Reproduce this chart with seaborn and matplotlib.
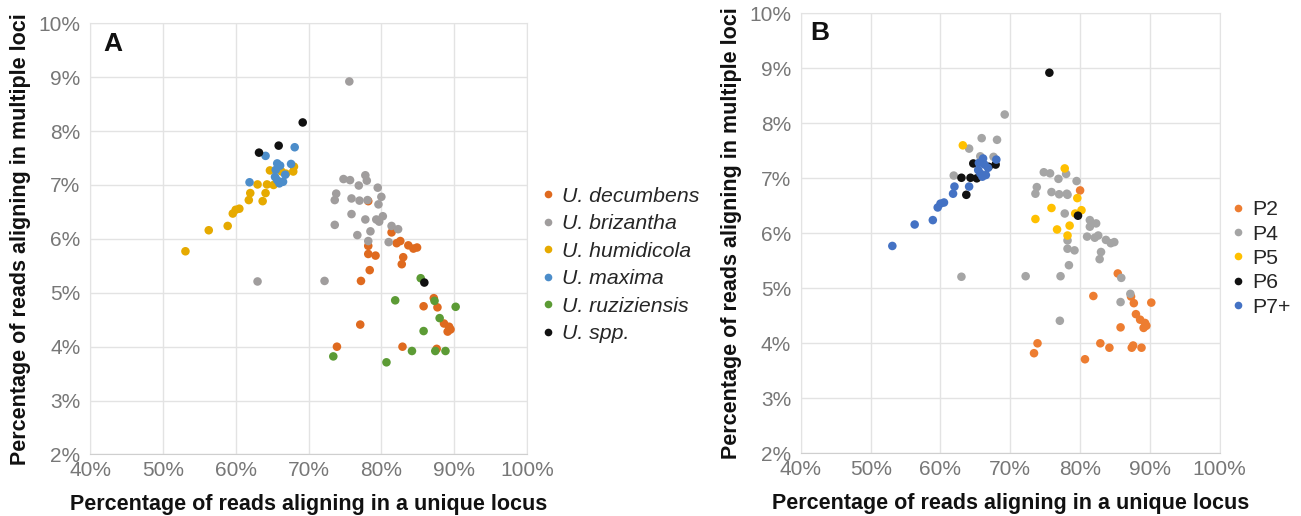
import pandas as pd
import seaborn as sns
import matplotlib.pyplot as plt
from matplotlib.lines import Line2D

# % reads aligning in a unique locus / in multiple loci, one entry per accession
# grouped by species (panel A colour); ploidy gives panel B colour
unique_pct = [
    # U. spp.
    69.2, 65.9, 63.2, 85.9,
    # U. maxima
    68.1, 64.1, 67.6, 65.7, 66.1, 66.8, 65.4, 65.5, 66.0, 66.5, 61.9, 65.7,
    # U. humidicola
    68.0, 67.9, 64.7, 66.3, 63.0, 64.3, 65.2, 66.9, 62.0, 64.1, 61.8, 63.7,
    60.5, 60.0, 59.6, 58.9, 56.3, 53.1,
    # U. brizantha
    75.6, 74.8, 75.7, 77.8, 78.0, 76.9, 79.5, 73.8, 73.6, 75.9, 77.0, 78.1,
    80.0, 79.6, 75.9, 73.6, 77.8, 79.3, 80.2, 79.7, 76.7, 78.5, 78.2, 81.4,
    82.3, 81.0, 72.2, 63.0,
    # U. decumbens
    78.2, 81.4, 78.2, 78.2, 79.2, 82.1, 82.6, 83.7, 84.4, 84.9, 83.0, 82.8,
    78.4, 77.2, 87.2, 85.8, 87.7, 88.6, 89.3, 89.1, 89.5, 77.1, 73.9, 82.9,
    87.6,
    # U. ruziziensis
    85.4, 81.9, 87.3, 90.2, 88.0, 85.8, 84.2, 87.4, 88.8, 73.4, 80.7,
]
multi_pct = [
    8.16, 7.73, 7.60, 5.19,
    7.70, 7.54, 7.39, 7.40, 7.36, 7.19, 7.15, 7.28, 7.03, 7.06, 7.05, 7.09,
    7.34, 7.25, 7.27, 7.25, 7.01, 7.01, 7.00, 7.21, 6.85, 6.85, 6.72, 6.70,
    6.56, 6.54, 6.47, 6.24, 6.16, 5.77,
    8.92, 7.11, 7.09, 7.18, 7.08, 6.99, 6.95, 6.84, 6.72, 6.75, 6.71, 6.72,
    6.78, 6.64, 6.46, 6.26, 6.36, 6.36, 6.42, 6.32, 6.07, 6.14, 5.96, 6.24,
    6.18, 5.94, 5.22, 5.21,
    6.70, 6.12, 5.87, 5.72, 5.69, 5.92, 5.96, 5.88, 5.82, 5.84, 5.66, 5.53,
    5.42, 5.22, 4.90, 4.75, 4.73, 4.43, 4.37, 4.28, 4.32, 4.41, 4.00, 4.00,
    3.96,
    5.27, 4.86, 4.85, 4.74, 4.53, 4.29, 3.92, 3.92, 3.92, 3.82, 3.71,
]
species = (['U. spp.'] * 4 + ['U. maxima'] * 12 + ['U. humidicola'] * 18
           + ['U. brizantha'] * 28 + ['U. decumbens'] * 25 + ['U. ruziziensis'] * 11)
ploidy = [
    'P4', 'P4', 'P5', 'P4',
    'P4', 'P4', 'P4', 'P4', 'P7+', 'P7+', 'P7+', 'P7+', 'P7+', 'P7+', 'P4', 'P7+',
    'P7+', 'P6', 'P6', 'P7+', 'P6', 'P6', 'P6', 'P6', 'P7+', 'P7+', 'P7+', 'P6',
    'P7+', 'P7+', 'P7+', 'P7+', 'P7+', 'P7+',
    'P6', 'P4', 'P4', 'P5', 'P4', 'P4', 'P4', 'P4', 'P4', 'P4', 'P4', 'P4',
    'P2', 'P5', 'P5', 'P5', 'P4', 'P5', 'P5', 'P6', 'P5', 'P5', 'P5', 'P4',
    'P4', 'P4', 'P4', 'P4',
    'P4', 'P4', 'P4', 'P4', 'P4', 'P4', 'P4', 'P4', 'P4', 'P4', 'P4', 'P4',
    'P4', 'P4', 'P4', 'P4', 'P2', 'P2', 'P2', 'P2', 'P2', 'P4', 'P2', 'P2',
    'P2',
    'P2', 'P2', 'P2', 'P2', 'P2', 'P2', 'P2', 'P2', 'P2', 'P2', 'P2',
]

species_order = ['U. decumbens', 'U. brizantha', 'U. humidicola', 'U. maxima', 'U. ruziziensis', 'U. spp.']
species_colors = ['#df6a1f', '#a09d9d', '#e6aa00', '#4c8dca', '#5c9b35', '#111111']
ploidy_order = ['P2', 'P4', 'P5', 'P6', 'P7+']
ploidy_colors = ['#ed7d31', '#a5a5a5', '#ffc000', '#111111', '#4472c4']

df = pd.DataFrame({'unique': unique_pct, 'multi': multi_pct, 'species': species, 'ploidy': ploidy})

sns.set_style('whitegrid', {'grid.color': '#e3e3e3', 'axes.edgecolor': '#e3e3e3'})
plt.rcParams['font.family'] = ['Liberation Sans', 'DejaVu Sans']

fig = plt.figure(figsize=(13.01, 5.16), dpi=100)
ax_a = fig.add_axes([0.0692, 0.1192, 0.3359, 0.8357])
ax_b = fig.add_axes([0.6156, 0.1215, 0.3219, 0.8527])

panels = [
    (ax_a, 'species', species_order, species_colors, 'A', (0.053, 0.951), (1.034, 0.44), 'italic', 0.4),
    (ax_b, 'ploidy', ploidy_order, ploidy_colors, 'B', (0.045, 0.956), (1.029, 0.443), 'normal', 0.25),
]

for ax, col, order, colors, letter, letter_pos, leg_pos, style, spacing in panels:
    # later series drawn on top, like the original spreadsheet chart
    d = df.copy()
    d[col] = pd.Categorical(d[col], categories=order, ordered=True)
    d = d.sort_values(col, kind='stable')
    sns.scatterplot(data=d, x='unique', y='multi', hue=col, hue_order=order, palette=colors,
                    s=38, linewidth=0, alpha=1, legend=False, ax=ax, zorder=3)

    ax.set_xlim(40, 100)
    ax.set_ylim(2, 10)
    ax.set_xticks(range(40, 101, 10))
    ax.set_yticks(range(2, 11))
    ax.xaxis.set_major_formatter(lambda v, pos: f'{v:.0f}%')
    ax.yaxis.set_major_formatter(lambda v, pos: f'{v:.0f}%')
    ax.tick_params(length=0, labelsize=15, labelcolor='#777777')
    ax.tick_params(axis='x', pad=5)
    ax.tick_params(axis='y', pad=7)
    ax.grid(True, color='#e3e3e3', linewidth=1)
    ax.set_axisbelow(True)
    for s in ax.spines.values():
        s.set_color('#e3e3e3')
    ax.spines['bottom'].set_color('#cfcfcf')

    ax.set_xlabel('Percentage of reads aligning in a unique locus', fontsize=15.5,
                  fontweight='bold', color='#111111', labelpad=10)
    ax.set_ylabel('Percentage of reads aligning in multiple loci', fontsize=15.5,
                  fontweight='bold', color='#111111', labelpad=5)
    ax.text(letter_pos[0], letter_pos[1], letter, transform=ax.transAxes, fontsize=19,
            fontweight='bold', ha='center', va='center', color='#111111')

    handles = [Line2D([], [], marker='o', linestyle='', markersize=5.5, markerfacecolor=c,
                      markeredgewidth=0) for c in colors]
    ax.legend(handles, order, loc='center left', bbox_to_anchor=leg_pos, frameon=False,
              prop={'size': 15.3, 'style': style}, handlelength=0.6, handletextpad=0.35,
              labelspacing=spacing, borderpad=0, borderaxespad=0)

fig.savefig('out.png', dpi=100)
